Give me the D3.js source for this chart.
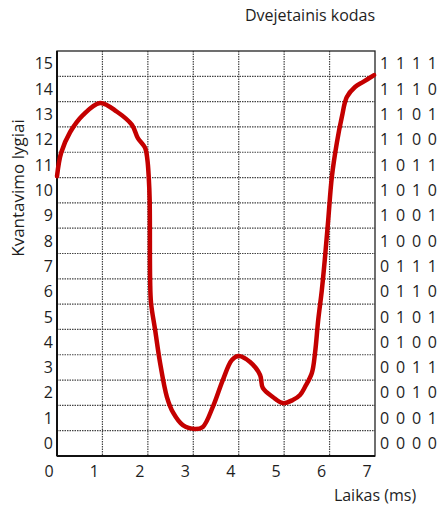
<!DOCTYPE html>
<html>
<head>
<meta charset="utf-8">
<script src="https://cdn.jsdelivr.net/npm/d3@7"></script>
<style>
  body { margin: 0; background: #fff; }
  svg text { font-family: "Open Sans", sans-serif; fill: #1e1e1e; }
</style>
</head>
<body>
<svg id="chart"></svg>
<script>
// signal samples
var laikas = [0, 0.09, 0.29, 0.57, 0.95, 1.32, 1.65, 1.78, 1.94, 1.99, 2.02, 2.04, 2.05, 2.07, 2.16, 2.27, 2.42, 2.56, 2.77, 3.04, 3.21, 3.43, 3.65, 3.85, 4.0, 4.25, 4.47, 4.53, 4.75, 4.97, 5.19, 5.35, 5.46, 5.61, 5.68, 5.75, 5.83, 5.9, 5.97, 6.05, 6.16, 6.27, 6.38, 6.56, 6.74, 6.98];
var lygis = [11.05, 11.97, 12.8, 13.47, 13.95, 13.6, 13.08, 12.56, 12.17, 11.7, 11.0, 10.1, 6.95, 6.04, 4.98, 3.67, 2.33, 1.7, 1.22, 1.07, 1.15, 1.94, 3.0, 3.79, 3.95, 3.71, 3.2, 2.69, 2.33, 2.09, 2.21, 2.41, 2.73, 3.28, 4.07, 5.37, 6.56, 7.86, 9.32, 11.02, 12.37, 13.39, 14.18, 14.58, 14.78, 15.05];

var xTicks = [0, 1, 2, 3, 4, 5, 6, 7];
var lygiai = d3.range(0, 16);
var kodai = lygiai.map(function(k) {
  return d3.format("04b")(k).split("").join(" ");
});

var svgWidth = 440, svgHeight = 506;
var svg = d3.select("#chart")
  .attr("width", svgWidth)
  .attr("height", svgHeight);

var x = d3.scaleLinear().domain([0, 7]).range([57, 375]);
var y = d3.scaleLinear().domain([0, 16]).range([456, 51]);

// grid
svg.append("g").selectAll("line")
  .data(d3.range(1, 7))
  .enter().append("line")
  .attr("x1", function(d) { return x(d); })
  .attr("x2", function(d) { return x(d); })
  .attr("y1", y(16))
  .attr("y2", y(0))
  .attr("stroke", "#444")
  .attr("stroke-width", 1.2)
  .attr("stroke-dasharray", "1.5,1");

svg.append("g").selectAll("line")
  .data(d3.range(1, 16))
  .enter().append("line")
  .attr("x1", x(0))
  .attr("x2", x(7))
  .attr("y1", function(d) { return y(d); })
  .attr("y2", function(d) { return y(d); })
  .attr("stroke", "#444")
  .attr("stroke-width", 1.2)
  .attr("stroke-dasharray", "1.5,1");

// frame
svg.append("rect")
  .attr("x", x(0))
  .attr("y", y(16))
  .attr("width", x(7) - x(0))
  .attr("height", y(0) - y(16))
  .attr("fill", "none")
  .attr("stroke", "#222")
  .attr("stroke-width", 1.3);
svg.append("line")
  .attr("x1", x(0)).attr("x2", x(0))
  .attr("y1", y(16)).attr("y2", y(0))
  .attr("stroke", "#111").attr("stroke-width", 2);
svg.append("line")
  .attr("x1", x(0)).attr("x2", x(7))
  .attr("y1", y(0)).attr("y2", y(0))
  .attr("stroke", "#111").attr("stroke-width", 2);

// signal
var line = d3.line()
  .x(function(d) { return x(d[0]); })
  .y(function(d) { return y(d[1]); })
  .curve(d3.curveCatmullRom.alpha(0.5));

svg.append("path")
  .datum(d3.zip(laikas, lygis))
  .attr("d", line)
  .attr("fill", "none")
  .attr("stroke", "#c40000")
  .attr("stroke-width", 4.5)
  .attr("stroke-linecap", "round")
  .attr("stroke-linejoin", "round");

// level labels (left)
svg.append("g").selectAll("text")
  .data(lygiai)
  .enter().append("text")
  .attr("x", 53)
  .attr("y", function(d) { return y(d + 0.5); })
  .attr("dy", "0.36em")
  .attr("text-anchor", "end")
  .style("font-size", "16px")
  .text(function(d) { return d; });

// binary codes (right)
svg.append("g").selectAll("text")
  .data(kodai)
  .enter().append("text")
  .attr("x", 380)
  .attr("y", function(d, i) { return y(i + 0.5); })
  .attr("dy", "0.36em")
  .attr("textLength", 57)
  .attr("lengthAdjust", "spacing")
  .style("font-size", "16px")
  .text(function(d) { return d; });

// time labels
svg.append("g").selectAll("text")
  .data(xTicks)
  .enter().append("text")
  .attr("x", function(d) { return x(d) - 8; })
  .attr("y", 477)
  .attr("text-anchor", "middle")
  .style("font-size", "16px")
  .text(function(d) { return d; });

// titles
svg.append("text")
  .attr("x", 310)
  .attr("y", 21)
  .attr("text-anchor", "middle")
  .style("font-size", "16px")
  .text("Dvejetainis kodas");

svg.append("text")
  .attr("x", 375)
  .attr("y", 501)
  .attr("text-anchor", "middle")
  .style("font-size", "16px")
  .text("Laikas (ms)");

svg.append("text")
  .attr("transform", "translate(24,188) rotate(-90)")
  .attr("text-anchor", "middle")
  .style("font-size", "17px")
  .text("Kvantavimo lygiai");
</script>
</body>
</html>
